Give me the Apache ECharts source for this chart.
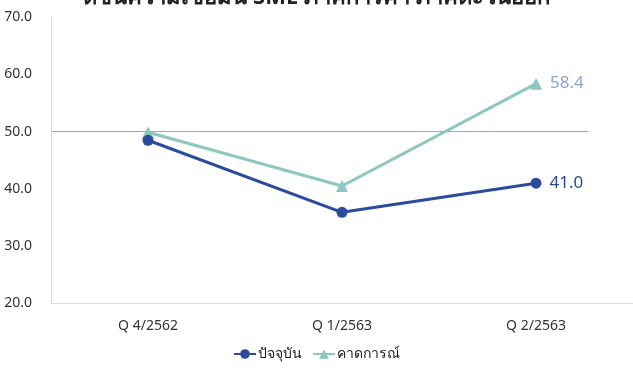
<!DOCTYPE html>
<html><head><meta charset="utf-8">
<script src="https://cdn.jsdelivr.net/npm/echarts@6/dist/echarts.min.js"></script>
<style>html,body{margin:0;padding:0;background:#fff}#c{width:633px;height:370px}</style>
</head><body><div id="c"></div>
<script>
const titleText = 'ดัชนีความเชื่อมั่น SME ภาคการค้า ภาคตะวันออก';
const categories = ['Q 4/2562', 'Q 1/2563', 'Q 2/2563'];
const currentName = 'ปัจจุบัน';
const forecastName = 'คาดการณ์';
const currentValues = [48.5, 35.9, 41.0];
const forecastValues = [49.9, 40.5, 58.4];
const yMin = 20, yMax = 70, yStep = 10;
const refValue = 50;

const blue = '#2B4C9B';
const teal = '#8CC8BF';
const font = '"Noto Sans", "DejaVu Sans", sans-serif';

const chart = echarts.init(document.getElementById('c'), null, {renderer: 'canvas'});
chart.setOption({
  animation: false,
  backgroundColor: '#fff',
  title: {
    text: titleText, left: 'center', top: -18,
    textStyle: {fontSize: 22, fontWeight: 'bold', color: '#222', fontFamily: font}
  },
  grid: {left: 51, width: 585, top: 17.3, bottom: 66.7, containLabel: false},
  legend: {
    bottom: 4, left: 'center', itemWidth: 22, itemHeight: 12, itemGap: 10,
    textStyle: {fontSize: 14, color: '#222', fontFamily: font, padding: [0, 0, 0, -3]},
    data: [currentName, forecastName]
  },
  xAxis: {
    type: 'category', data: categories, boundaryGap: true,
    axisLine: {lineStyle: {color: '#d9d9d9', width: 1}},
    axisTick: {show: false},
    axisLabel: {fontSize: 14, color: '#333', margin: 16, fontFamily: font}
  },
  yAxis: {
    type: 'value', min: yMin, max: yMax, interval: yStep,
    axisLine: {show: true, lineStyle: {color: '#d9d9d9', width: 1}},
    axisTick: {show: false},
    splitLine: {show: false},
    axisLabel: {fontSize: 14, color: '#333', margin: 19, fontFamily: font,
      formatter: v => v.toFixed(1)}
  },
  series: [
    {
      name: currentName, type: 'line', data: currentValues,
      symbol: 'circle', symbolSize: 11,
      lineStyle: {color: blue, width: 3},
      itemStyle: {color: blue},
      z: 3,
      label: {
        show: true, position: 'right', distance: 8, fontSize: 17, color: '#2D4A8A', fontFamily: font,
        formatter: p => p.dataIndex === categories.length - 1 ? p.value.toFixed(1) : ''
      },
      markLine: {
        silent: true, symbol: 'none', label: {show: false},
        lineStyle: {color: '#a6a6a6', width: 1, type: 'solid'},
        data: [[{yAxis: refValue, x: 52}, {yAxis: refValue, x: 588}]],
        z: 1
      }
    },
    {
      name: forecastName, type: 'line', data: forecastValues,
      symbol: 'triangle', symbolSize: 12,
      lineStyle: {color: teal, width: 3},
      itemStyle: {color: teal},
      z: 2,
      label: {
        show: true, position: 'right', distance: 8, fontSize: 17, color: '#8EA3D6', fontFamily: font,
        formatter: p => p.dataIndex === categories.length - 1 ? p.value.toFixed(1) : ''
      }
    }
  ]
});
</script></body></html>
